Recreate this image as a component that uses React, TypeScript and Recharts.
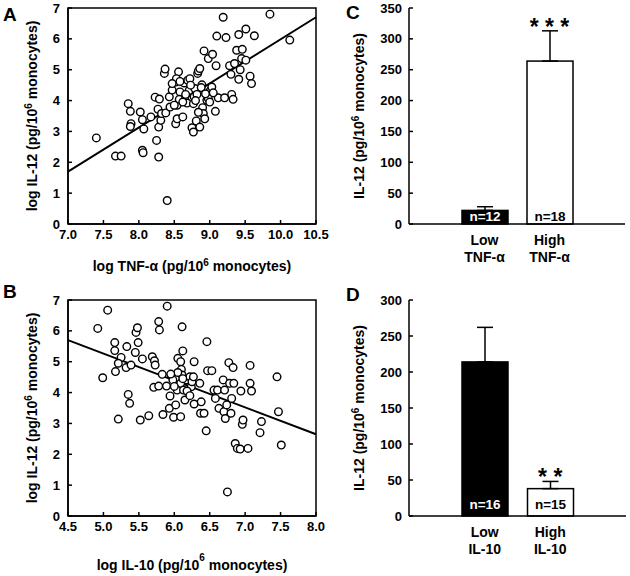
import React from 'react';
import {
  ScatterChart, Scatter, XAxis, YAxis, ReferenceLine, ReferenceArea,
  BarChart, Bar, ErrorBar, ReferenceDot,
} from 'recharts';

const FONT = '"Liberation Sans", Arial, sans-serif';
const TXT = { fontFamily: FONT, fontWeight: 700, fill: '#000' };

// Panel A: log TNF-a (x) vs log IL-12 (y)
const tnfPoints: [number, number][] = [
  [7.40, 2.79], [7.67, 2.20], [7.75, 2.20], [7.85, 3.90], [7.88, 3.65], [7.89, 3.25], [7.88, 3.16],
  [8.02, 3.63], [8.05, 3.38], [8.07, 3.08], [8.05, 2.39], [8.06, 2.31], [8.17, 3.47], [8.25, 2.71],
  [8.28, 2.17], [8.23, 4.11], [8.27, 3.72], [8.29, 4.05], [8.28, 3.14], [8.31, 3.36], [8.32, 3.58],
  [8.36, 4.88], [8.37, 5.02], [8.40, 0.76], [8.38, 3.60], [8.43, 4.12], [8.44, 3.79], [8.47, 4.34],
  [8.52, 4.60], [8.52, 3.25], [8.54, 3.41], [8.54, 3.85], [8.56, 4.93], [8.53, 4.71], [8.58, 4.28],
  [8.57, 4.04], [8.62, 3.47], [8.64, 4.57], [8.65, 4.01], [8.68, 3.92], [8.69, 4.66], [8.71, 4.33],
  [8.72, 4.71], [8.75, 3.12], [8.77, 2.98], [8.77, 3.90], [8.78, 4.12], [8.79, 4.39], [8.82, 4.20],
  [8.83, 4.88], [8.84, 4.96], [8.86, 5.04], [8.81, 3.34], [8.86, 3.14], [8.89, 4.51], [8.90, 3.77],
  [8.91, 3.58], [8.93, 3.41], [8.92, 5.61], [8.98, 5.36], [9.04, 5.50], [9.01, 4.33], [9.03, 4.44],
  [8.96, 4.01], [8.98, 4.07], [9.08, 3.65], [9.09, 5.13], [9.10, 6.09], [9.12, 4.09], [9.19, 6.70],
  [9.21, 4.09], [9.23, 6.04], [9.28, 5.13], [9.30, 4.85], [9.31, 4.20], [9.33, 4.04], [9.35, 5.20],
  [9.38, 5.63], [9.41, 6.14], [9.41, 4.69], [9.43, 5.00], [9.46, 5.66], [9.45, 5.36], [9.51, 6.32],
  [9.51, 5.31], [9.57, 4.79], [9.59, 4.55], [9.63, 6.10], [9.85, 6.80], [10.13, 5.96],
  [8.47, 4.55], [8.58, 4.62], [8.66, 4.20], [8.73, 4.50], [8.80, 4.00], [8.88, 4.42], [8.94, 4.22],
  [9.00, 3.95], [8.50, 3.85], [8.62, 3.95], [8.84, 3.62], [9.05, 4.25],
];
const tnfFit: [number, number][] = [[7.0, 1.7], [10.5, 6.7]];
const tnfTicks = [7.0, 7.5, 8.0, 8.5, 9.0, 9.5, 10.0, 10.5];

// Panel B: log IL-10 (x) vs log IL-12 (y)
const il10Points: [number, number][] = [
  [4.92, 6.08], [5.06, 6.67], [4.99, 4.48], [5.16, 5.62], [5.16, 5.36], [5.25, 5.14], [5.21, 4.95],
  [5.17, 4.68], [5.21, 3.14], [5.32, 4.81], [5.33, 5.49], [5.35, 3.94], [5.37, 3.65], [5.39, 4.89],
  [5.45, 5.30], [5.46, 5.95], [5.48, 6.10], [5.49, 5.62], [5.52, 3.11], [5.55, 5.09], [5.64, 3.25],
  [5.69, 5.16], [5.72, 5.03], [5.73, 4.89], [5.71, 4.17], [5.78, 4.21], [5.78, 6.30], [5.79, 6.03],
  [5.83, 4.59], [5.84, 3.29], [5.90, 6.80], [5.89, 4.21], [5.93, 3.49], [5.94, 3.89], [5.98, 4.41],
  [5.99, 3.20], [6.02, 3.60], [6.04, 4.08], [6.05, 5.11], [6.09, 3.22], [6.11, 6.13], [6.09, 5.00],
  [6.10, 4.75], [6.11, 4.57], [6.09, 4.30], [6.12, 5.35], [6.13, 4.08], [6.15, 3.76], [6.18, 4.41],
  [6.22, 4.51], [6.24, 4.19], [6.25, 4.35], [6.27, 4.51], [6.28, 5.00], [6.28, 3.63], [6.36, 4.30],
  [6.37, 3.33], [6.38, 3.70], [6.42, 3.33], [6.45, 2.76], [6.46, 5.65], [6.47, 4.71], [6.53, 4.71],
  [6.56, 4.08], [6.58, 3.81], [6.61, 4.08], [6.63, 3.49], [6.69, 4.41], [6.70, 3.38], [6.71, 4.08],
  [6.72, 3.16], [6.74, 3.60], [6.75, 0.78], [6.77, 4.97], [6.78, 4.30], [6.80, 3.33], [6.81, 3.81],
  [6.83, 4.81], [6.84, 4.30], [6.86, 2.35], [6.89, 2.19], [6.93, 2.17], [6.94, 4.05], [6.96, 2.97],
  [6.97, 3.11], [7.04, 2.19], [7.07, 4.88], [7.07, 4.30], [7.09, 4.05], [7.23, 3.06], [7.21, 2.70],
  [7.45, 4.51], [7.47, 3.38], [7.51, 2.30],
  [6.05, 4.65], [6.18, 4.05], [6.22, 3.90], [6.00, 4.20], [6.12, 4.45], [5.95, 4.60],
];
const il10Fit: [number, number][] = [[4.5, 5.7], [8.0, 2.65]];
const il10Ticks = [4.5, 5.0, 5.5, 6.0, 6.5, 7.0, 7.5, 8.0];
const logTicks = [0, 1, 2, 3, 4, 5, 6, 7];

// Panel C: IL-12 by TNF-a group
const cGroups = ['Low', 'High'];
const cSecondLine = ['TNF-α', 'TNF-α'];
const cMeans = [22, 264];
const cErrors = [6, 49];
const cCounts = ['n=12', 'n=18'];
const cTicks = [0, 50, 100, 150, 200, 250, 300, 350];

// Panel D: IL-12 by IL-10 group
const dGroups = ['Low', 'High'];
const dSecondLine = ['IL-10', 'IL-10'];
const dMeans = [214, 38];
const dErrors = [48, 10];
const dCounts = ['n=16', 'n=15'];
const dTicks = [0, 50, 100, 150, 200, 250, 300];

const tickStyle = { fontSize: 13, fontFamily: FONT, fontWeight: 700, fill: '#000' };
const axisLineStyle = { stroke: '#000', strokeWidth: 1.5 };

function AxisTitle(props: any) {
  const { viewBox, vertical, pos, before, sup, after, supDy, letter, letterX, letterY } = props;
  const vb = viewBox || { x: 0, y: 0, width: 0, height: 0 };
  const cx = vertical ? pos : vb.x + vb.width / 2;
  const cy = vertical ? vb.y + vb.height / 2 : pos;
  return (
    <g>
      <text
        x={cx}
        y={cy}
        textAnchor="middle"
        fontSize={14}
        {...TXT}
        transform={vertical ? `rotate(-90 ${cx} ${cy})` : undefined}
      >
        {before}
        <tspan dy={-supDy} fontSize={10}>{sup}</tspan>
        <tspan dy={supDy}>{after}</tspan>
      </text>
      {letter && (
        <text x={letterX} y={letterY} fontSize={19} {...TXT}>{letter}</text>
      )}
    </g>
  );
}

const openCircle = (p: any) => (
  <circle cx={p.cx} cy={p.cy} r={3.8} fill="#fff" stroke="#000" strokeWidth={1.4} />
);

function ScatterPanel({ points, fit, xTicks, xTitle, xTitleY, supDy, letter, letterY, height, top }: any) {
  const data = points.map(([x, y]: [number, number]) => ({ x, y }));
  const xMin = xTicks[0];
  const xMax = xTicks[xTicks.length - 1];
  return (
    <ScatterChart width={340} height={height} margin={{ top, right: 24, bottom: 0, left: 0 }}>
      <ReferenceArea x1={xMin} x2={xMax} y1={0} y2={7} fill="none" stroke="#000" strokeWidth={1.5} />
      <XAxis
        type="number"
        dataKey="x"
        domain={[xMin, xMax]}
        ticks={xTicks}
        tickFormatter={(v: number) => v.toFixed(1)}
        height={height - top - 216}
        tickSize={-4}
        tickMargin={10}
        tick={tickStyle}
        tickLine={{ stroke: '#000', strokeWidth: 1.5 }}
        axisLine={axisLineStyle}
        allowDataOverflow
        interval={0}
        label={
          <AxisTitle pos={xTitleY} before={xTitle[0]} sup="6" after={xTitle[1]} supDy={supDy} />
        }
      />
      <YAxis
        type="number"
        dataKey="y"
        domain={[0, 7]}
        ticks={logTicks}
        width={68}
        tickSize={-4}
        tickMargin={12}
        tick={tickStyle}
        tickLine={{ stroke: '#000', strokeWidth: 1.5 }}
        axisLine={axisLineStyle}
        allowDataOverflow
        interval={0}
        label={
          <AxisTitle
            vertical
            pos={37}
            before="log IL-12 (pg/10"
            sup="6"
            after=" monocytes)"
            supDy={5}
            letter={letter}
            letterX={3}
            letterY={letterY}
          />
        }
      />
      <ReferenceLine
        segment={[{ x: fit[0][0], y: fit[0][1] }, { x: fit[1][0], y: fit[1][1] }]}
        stroke="#000"
        strokeWidth={2}
      />
      <Scatter data={data} shape={openCircle} isAnimationActive={false} />
    </ScatterChart>
  );
}

function TwoLineTick({ x, y, payload, groups, second }: any) {
  const i = groups.indexOf(payload.value);
  return (
    <text x={x} y={y + 21} textAnchor="middle" fontSize={14} {...TXT}>
      <tspan x={x}>{payload.value}</tspan>
      <tspan x={x} dy={17}>{second[i]}</tspan>
    </text>
  );
}

function NBar(props: any) {
  const { x, y, width, height, payload, darkGroup, labelOffset } = props;
  const dark = payload.group === darkGroup;
  return (
    <g>
      <rect x={x} y={y} width={width} height={height} fill={dark ? '#000' : '#fff'} stroke="#000" strokeWidth={1.5} />
      <text
        x={x + width / 2}
        y={y + height - labelOffset}
        textAnchor="middle"
        fontSize={13.5}
        {...TXT}
        fill={dark ? '#fff' : '#000'}
      >
        {payload.n}
      </text>
    </g>
  );
}

function Stars({ viewBox, text }: any) {
  const vb = viewBox || { x: 0, y: 0, width: 0, height: 0 };
  return (
    <text x={vb.x + vb.width / 2} y={vb.y + vb.height / 2 + 4} textAnchor="middle" fontSize={23} {...TXT}>
      {text}
    </text>
  );
}

function BarPanel({ groups, second, means, errors, counts, ticks, stars, letter, letterY, height, top, labelOffset, right }: any) {
  const data = groups.map((g: string, i: number) => ({
    group: g,
    mean: means[i],
    err: [0, errors[i]],
    n: counts[i],
  }));
  const yMax = ticks[ticks.length - 1];
  return (
    <BarChart width={300} height={height} data={data} margin={{ top, right, bottom: 0, left: 0 }}>
      <XAxis
        dataKey="group"
        padding={{ left: 43, right: 43 }}
        height={height - top - 216}
        tickLine={false}
        tickSize={0}
        tickMargin={0}
        axisLine={axisLineStyle}
        interval={0}
        tick={<TwoLineTick groups={groups} second={second} />}
      />
      <XAxis xAxisId="top" orientation="top" height={0} tick={false} tickLine={false} axisLine={axisLineStyle} />
      <YAxis
        domain={[0, yMax]}
        ticks={ticks}
        width={79}
        tickSize={-4}
        tickMargin={11}
        tick={tickStyle}
        tickLine={{ stroke: '#000', strokeWidth: 1.5 }}
        axisLine={axisLineStyle}
        interval={0}
        label={
          <AxisTitle
            vertical
            pos={34}
            before="IL-12 (pg/10"
            sup="6"
            after=" monocytes)"
            supDy={5}
            letter={letter}
            letterX={16}
            letterY={letterY}
          />
        }
      />
      <YAxis yAxisId="right" orientation="right" width={0} tick={false} tickLine={false} axisLine={axisLineStyle} />
      <Bar
        dataKey="mean"
        barSize={46}
        isAnimationActive={false}
        shape={(p: any) => <NBar {...p} darkGroup={groups[0]} labelOffset={labelOffset} />}
      >
        <ErrorBar dataKey="err" width={8} stroke="#000" strokeWidth={1.5} direction="y" isAnimationActive={false} />
      </Bar>
      {groups.map((g: string, i: number) =>
        stars[i] ? (
          <ReferenceDot
            key={g}
            x={g}
            y={means[i] + errors[i]}
            r={1}
            fill="none"
            stroke="none"
            label={<Stars text={stars[i]} />}
          />
        ) : null
      )}
    </BarChart>
  );
}

export default function App() {
  return (
    <div style={{ position: 'absolute', left: 0, top: 0, width: 630, height: 576, background: '#fff', overflow: 'hidden' }}>
      <div style={{ position: 'absolute', left: 0, top: 0 }}>
        <ScatterPanel
          points={tnfPoints}
          fit={tnfFit}
          xTicks={tnfTicks}
          xTitle={['log TNF-α (pg/10', ' monocytes)']}
          xTitleY={271}
          supDy={5}
          letter="A"
          letterY={21}
          height={285}
          top={8}
        />
      </div>
      <div style={{ position: 'absolute', left: 0, top: 276 }}>
        <ScatterPanel
          points={il10Points}
          fit={il10Fit}
          xTicks={il10Ticks}
          xTitle={['log IL-10 (pg/10', '  monocytes)']}
          xTitleY={294}
          supDy={9}
          letter="B"
          letterY={22}
          height={300}
          top={24}
        />
      </div>
      <div style={{ position: 'absolute', left: 330, top: 0 }}>
        <BarPanel
          groups={cGroups}
          second={cSecondLine}
          means={cMeans}
          errors={cErrors}
          counts={cCounts}
          ticks={cTicks}
          stars={['', '* * *']}
          letter="C"
          letterY={19}
          height={285}
          top={8}
          labelOffset={3}
          right={5}
        />
      </div>
      <div style={{ position: 'absolute', left: 330, top: 276 }}>
        <BarPanel
          groups={dGroups}
          second={dSecondLine}
          means={dMeans}
          errors={dErrors}
          counts={dCounts}
          ticks={dTicks}
          stars={['', '* *']}
          letter="D"
          letterY={25}
          height={300}
          top={24}
          labelOffset={7}
          right={4}
        />
      </div>
    </div>
  );
}
